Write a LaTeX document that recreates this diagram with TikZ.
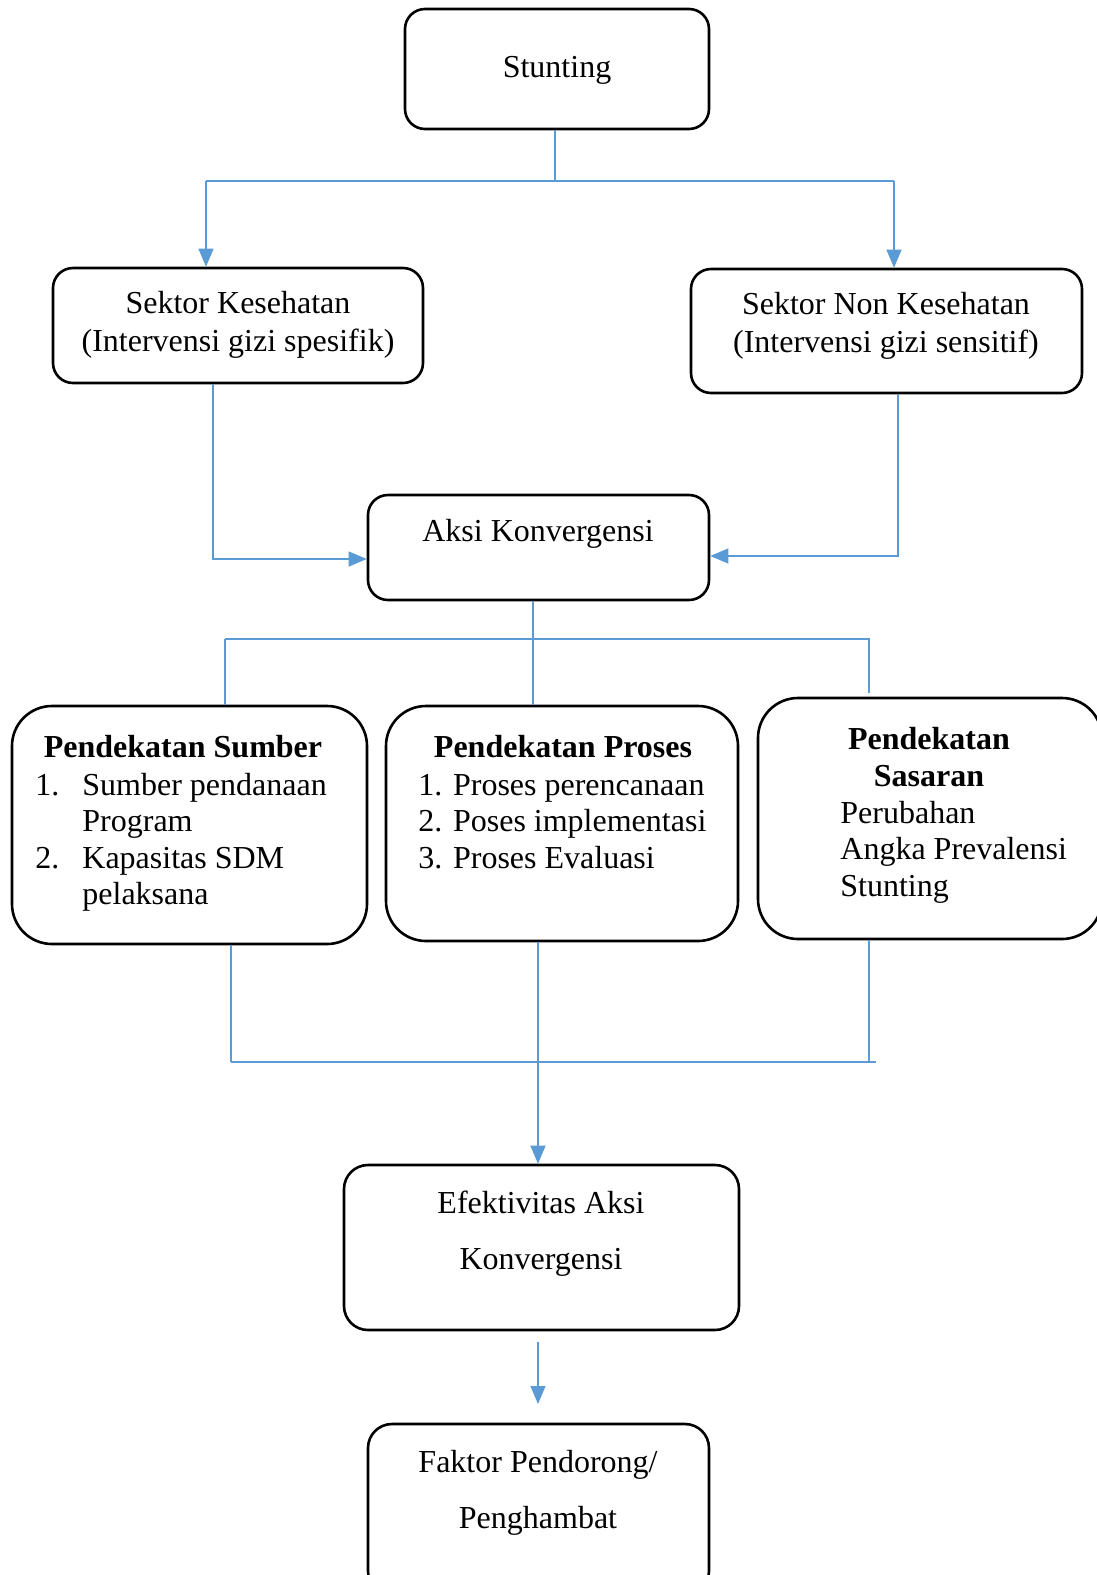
\documentclass[tikz,border=0pt]{standalone}
\usepackage{fontspec}
\setmainfont{Liberation Serif}
\usetikzlibrary{arrows.meta}
\definecolor{lineblue}{RGB}{91,155,213}
\begin{document}
\begin{tikzpicture}[x=0.5pt,y=-0.5pt,
  box/.style={draw=black,line width=1.3pt,rounded corners=10pt,inner sep=0pt,fill=none},
  bigbox/.style={box,rounded corners=20pt},
  txt/.style={font=\fontsize{16pt}{18.3pt}\selectfont,inner sep=0pt,anchor=base},
  txtl/.style={txt,anchor=base west},
  conn/.style={draw=lineblue,line width=0.55pt},
  arr/.style={conn,-{Triangle[length=9pt,width=7.5pt]}}]
\useasboundingbox (0,0) rectangle (1097,1575);
% boxes
\node[box,minimum width=152pt,minimum height=60pt] (stunt) at (557,69) {};
\node[box,minimum width=185pt,minimum height=57.5pt] (kes) at (238,325.5) {};
\node[box,minimum width=195.5pt,minimum height=62pt] (non) at (886.5,331) {};
\node[box,minimum width=170.5pt,minimum height=52.5pt] (aksi) at (538.5,547.5) {};
\node[bigbox,minimum width=177.5pt,minimum height=119pt] (sumber) at (189.5,825) {};
\node[bigbox,minimum width=176pt,minimum height=117.5pt] (proses) at (562,823.5) {};
\node[bigbox,minimum width=172pt,minimum height=120.5pt] (sasaran) at (930,818.5) {};
\node[box,rounded corners=12pt,minimum width=197.5pt,minimum height=82.5pt] (efek) at (541.5,1247.5) {};
\node[box,rounded corners=12pt,minimum width=170.5pt,minimum height=85.5pt] (faktor) at (538.5,1509.5) {};
% texts
\node[txt] (t1) at (557,77) {Stunting};
\node[txt] (t2) at (238,313) {Sektor Kesehatan};
\node[txt] (t3) at (238,351) {(Intervensi gizi spesifik)};
\node[txt] (t4) at (886,314) {Sektor Non Kesehatan};
\node[txt] (t5) at (886,352) {(Intervensi gizi sensitif)};
\node[txt] (t6) at (538,541) {Aksi Konvergensi};
\node[txt,font=\fontsize{16pt}{18.3pt}\selectfont\bfseries] (s0) at (183,757) {Pendekatan Sumber};
\node[txtl] (s1n) at (35,795) {1.};
\node[txtl] (s1) at (82,795) {Sumber pendanaan};
\node[txtl] (s1b) at (82,831) {Program};
\node[txtl] (s2n) at (35,868) {2.};
\node[txtl] (s2) at (82,868) {Kapasitas SDM};
\node[txtl] (s2b) at (82,904) {pelaksana};
\node[txt,font=\fontsize{16pt}{18.3pt}\selectfont\bfseries] (p0) at (563,757) {Pendekatan Proses};
\node[txtl] (p1) at (418,795) {1. Proses perencanaan};
\node[txtl] (p2) at (418,831) {2. Poses implementasi};
\node[txtl] (p3) at (418,868) {3. Proses Evaluasi};
\node[txt,font=\fontsize{16pt}{18.3pt}\selectfont\bfseries] (q0) at (929,749) {Pendekatan};
\node[txt,font=\fontsize{16pt}{18.3pt}\selectfont\bfseries] (q0b) at (929,786) {Sasaran};
\node[txtl] (q1) at (840,823) {Perubahan};
\node[txtl] (q2) at (840,859) {Angka Prevalensi};
\node[txtl] (q3) at (840,896) {Stunting};
\node[txt] (e1) at (541,1213) {Efektivitas Aksi};
\node[txt] (e2) at (541,1269) {Konvergensi};
\node[txt] (f1) at (538,1472) {Faktor Pendorong/};
\node[txt] (f2) at (538,1528) {Penghambat};
% connectors top
\coordinate (j1) at (555,181);
\draw[conn] (stunt.south -| j1) -- (j1);
\coordinate (jl) at (206,181);
\coordinate (jr) at (894,181);
\draw[conn] (jl) -- (jr);
\draw[arr] (jl) -- (kes.north -| jl);
\draw[arr] (jr) -- (non.north -| jr);
% into aksi
\coordinate (kl) at (213,559);
\draw[arr] (kes.south -| kl) |- (aksi.west |- kl);
\coordinate (nr) at (898,556);
\draw[arr] (non.south -| nr) |- (aksi.east |- nr);
% aksi to approaches
\coordinate (a1) at (533,639);
\draw[conn] (aksi.south -| a1) -- (proses.north -| a1);
\coordinate (al) at (225,639);
\coordinate (ar) at (870,639);
\draw[conn] (al) -- (ar);
\draw[conn] (al) -- (sumber.north -| al);
\coordinate (ar2) at (869,693);
\draw[conn] (869,639) -- (ar2);
% approaches to efek
\coordinate (bl) at (231,1062);
\coordinate (br) at (876,1062);
\draw[conn] (sumber.south -| bl) -- (bl);
\draw[conn] (bl) -- (br);
\coordinate (bs) at (869,1062);
\draw[conn] (sasaran.south -| bs) -- (bs);
\coordinate (bm) at (538,1062);
\draw[arr] (proses.south -| bm) -- (efek.north -| bm);
% efek to faktor
\coordinate (c1) at (538,1342);
\coordinate (c2) at (538,1404);
\draw[arr] (c1) -- (c2);
\end{tikzpicture}
\end{document}
